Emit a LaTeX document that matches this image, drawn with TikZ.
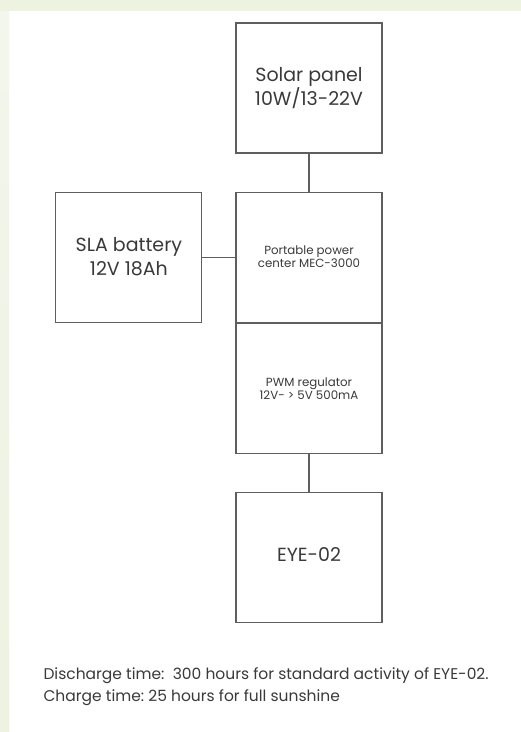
\documentclass[tikz,border=0pt]{standalone}
\usepackage{fontspec}
\setmainfont{Poppins}
\usepackage{tikz}
\usetikzlibrary{
	positioning,
	arrows.meta
}
\definecolor{edgegray}{HTML}{5E5E5E}
\definecolor{inkgray}{HTML}{3A3A3A}
\definecolor{paleleaf}{HTML}{EDF2E1}
\definecolor{paleleaflight}{HTML}{F3F6EC}

\tikzset{
	block/.style={draw=edgegray, line width=1.1pt, minimum width=146pt,
		minimum height=130pt, inner sep=0pt, align=center, text=inkgray},
	bigtext/.style={font=\fontsize{19}{24}\selectfont},
	smalltext/.style={font=\fontsize{11.8}{13}\selectfont},
	wire/.style={draw=edgegray, line width=1.1pt}
}

\begin{document}
\begin{tikzpicture}[x=1pt,y=-1pt]
		\useasboundingbox (0,0) rectangle (521,732);
		\fill[white] (0,0) rectangle (521,732);
		\shade[top color=paleleaflight, bottom color=paleleaf] (0,0) rectangle (9,732);
		\fill[paleleaf] (0,0) rectangle (521,11);

		\draw
			node[block,bigtext] at (309,88)        (solar) {\raisebox{3pt}{Solar panel}\\\raisebox{3pt}{10W/13-22V}}
			node[block,smalltext,below=38pt of solar] (mec)   {Portable power\\center MEC-3000}
			node[block,smalltext,below=0pt of mec]    (pwm)   {PWM regulator\\12V- > 5V 500mA}
			node[block,bigtext,below=38pt of pwm]     (eye)   {\raisebox{6pt}{EYE-02}}
			node[block,bigtext,left=33pt of mec]      (sla)   {\raisebox{2pt}{SLA battery}\\\raisebox{2pt}{12V 18Ah}}

			(solar) edge[wire] (mec)
			(sla)   edge[wire] (mec)
			(pwm)   edge[wire] (eye)
		;

		\node[anchor=west, align=left, text=inkgray, font=\fontsize{15.5}{22}\selectfont]
			(notes) at (40,687) {Discharge time:\ \ 300 hours for standard activity of EYE-02.\\
			Charge time:\ 25 hours for full sunshine};
    \end{tikzpicture}
\end{document}
